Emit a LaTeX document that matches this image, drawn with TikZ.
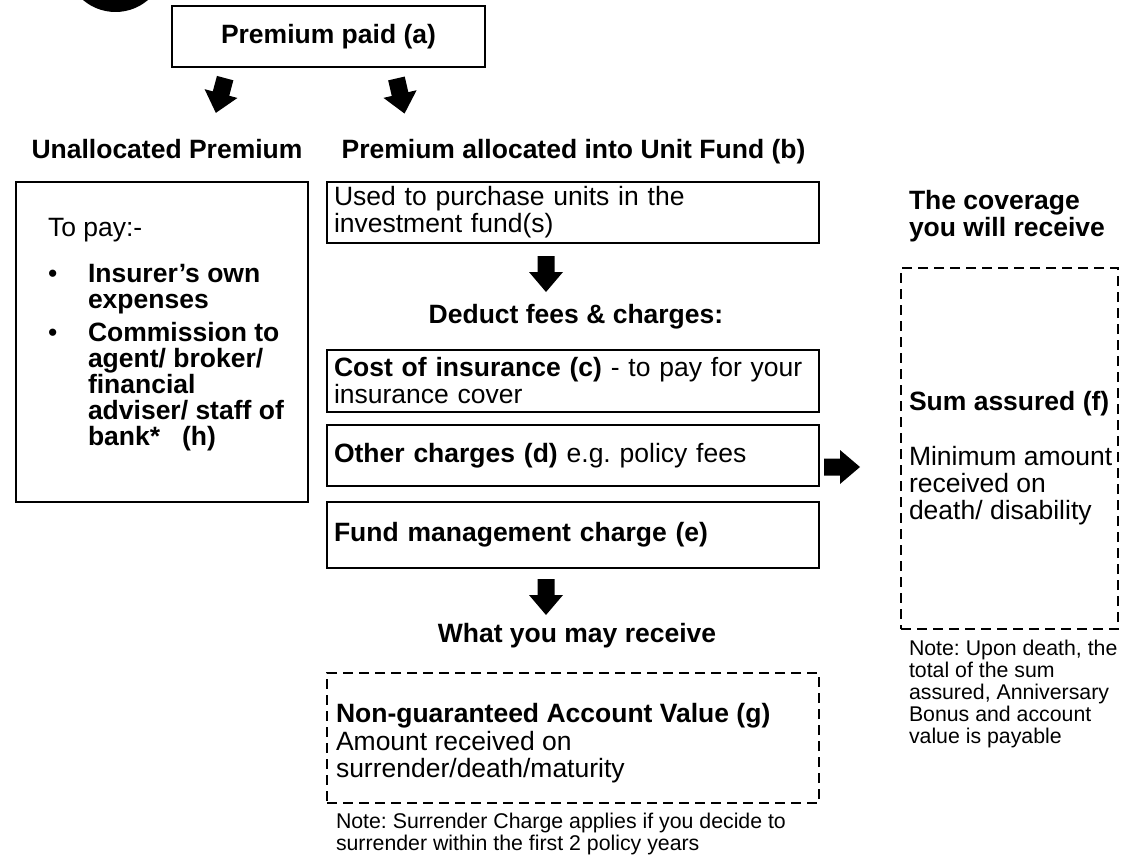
\documentclass[tikz,border=0pt]{standalone}
\usepackage{fontspec}
\setmainfont{Liberation Sans}
\usetikzlibrary{positioning}
\frenchspacing

% fat block arrow: #1 centre, #2 rotation
\newcommand{\blockarrow}[2]{%
  \fill[shift={#1}, rotate=#2] (-8.5,-18) -- (8.5,-18) -- (8.5,-2) -- (17,-2)
    -- (0,18) -- (-17,-2) -- (-8.5,-2) -- cycle;}

\begin{document}
\begin{tikzpicture}[
  x=1pt, y=-1pt,
  every node/.style={outer sep=0pt, inner sep=0pt, font=\fontsize{26.5}{27}\selectfont},
  box/.style={draw, line width=1.5pt, anchor=north west, minimum width=492pt,
    minimum height=61pt, text width=478pt, inner xsep=7pt, align=left},
  panel/.style={draw, line width=1.5pt, anchor=north west},
  dashbox/.style={draw, line width=2.4pt, dash pattern=on 10pt off 6pt, anchor=north west},
  head/.style={font=\fontsize{26.5}{27}\selectfont\bfseries, anchor=base},
  body/.style={anchor=north west, align=left},
  note/.style={anchor=north west, align=left, font=\fontsize{21.3}{22}\selectfont}
]
  \useasboundingbox (0,0) rectangle (1130,856);

  % Badge in the corner
  \begin{scope}
    \clip (0,0) rectangle (1130,856);
    \fill (115.5,-38) circle (50pt);
  \end{scope}

  % Top
  \node[panel, minimum width=313pt, minimum height=61pt,
        font=\fontsize{26.5}{27}\selectfont\bfseries] (paid) at (172,6) {Premium paid (a)};
  \blockarrow{(220.5,95.5)}{-15}
  \blockarrow{(400.5,96)}{13}

  % Left column (unallocated)
  \node[head] (unallocated) at (167,159) {Unallocated Premium};
  \node[panel, minimum width=292pt, minimum height=320pt] (unalloc) at (16,182) {};
  \node[body, font=\fontsize{26.5}{26}\selectfont] (topay) at (48,218) {To pay:-\\[20pt]
    \makebox[40pt][l]{\textbullet}\textbf{Insurer’s own}\\
    \hspace*{40pt}\textbf{expenses}\\[7pt]
    \makebox[40pt][l]{\textbullet}\textbf{Commission to}\\
    \hspace*{40pt}\textbf{agent/ broker/}\\
    \hspace*{40pt}\textbf{financial}\\
    \hspace*{40pt}\textbf{adviser/ staff of}\\
    \hspace*{40pt}\textbf{bank*\hspace{22pt}(h)}};

  % Middle column (unit fund)
  \node[head] (allocated) at (573.5,158) {Premium allocated into Unit Fund (b)};
  \node[box] (used) at (327,182) {Used to purchase units in the\\investment fund(s)};
  \blockarrow{(546,274)}{0}
  \node[head] (deduct) at (576,323) {Deduct fees \& charges:};
  \node[box, minimum height=62pt] (cost) at (327,350)
    {\textbf{Cost of insurance (c)} - to pay for your\\insurance cover};
  \node[box, below=13pt of cost] (other) {\textbf{Other charges (d)} e.g.\ policy fees};
  \node[box, minimum height=66pt, below=16pt of other] (fund) {\textbf{Fund management charge (e)}};
  \blockarrow{(546,597)}{0}
  \node[head] (receive) at (577,642) {What you may receive};
  \node[dashbox, minimum width=492pt, minimum height=130pt] (account) at (327,673) {};
  \node[body] (accounttext) at (336,703) {\textbf{Non-guaranteed Account Value (g)}\\[1pt]
    Amount received on\\surrender/death/maturity};
  \node[note] (note1) at (336,812.7) {Note: Surrender Charge applies if you decide to\\
    surrender within the first 2 policy years};

  % Right column (coverage)
  \blockarrow{(842,467)}{90}
  \node[body, font=\fontsize{26.5}{27}\selectfont\bfseries] (coverage) at (909,190)
    {The coverage\\you will receive};
  \node[dashbox, minimum width=217pt, minimum height=361pt] (sum) at (901,268) {};
  \node[body] (sumtext) at (909,391) {\textbf{Sum assured (f)}\\[28pt]
    Minimum amount\\received on\\death/ disability};
  \node[note] (note2) at (909,639.7) {Note: Upon death, the\\total of the sum\\
    assured, Anniversary\\Bonus and account\\value is payable};
\end{tikzpicture}
\end{document}
